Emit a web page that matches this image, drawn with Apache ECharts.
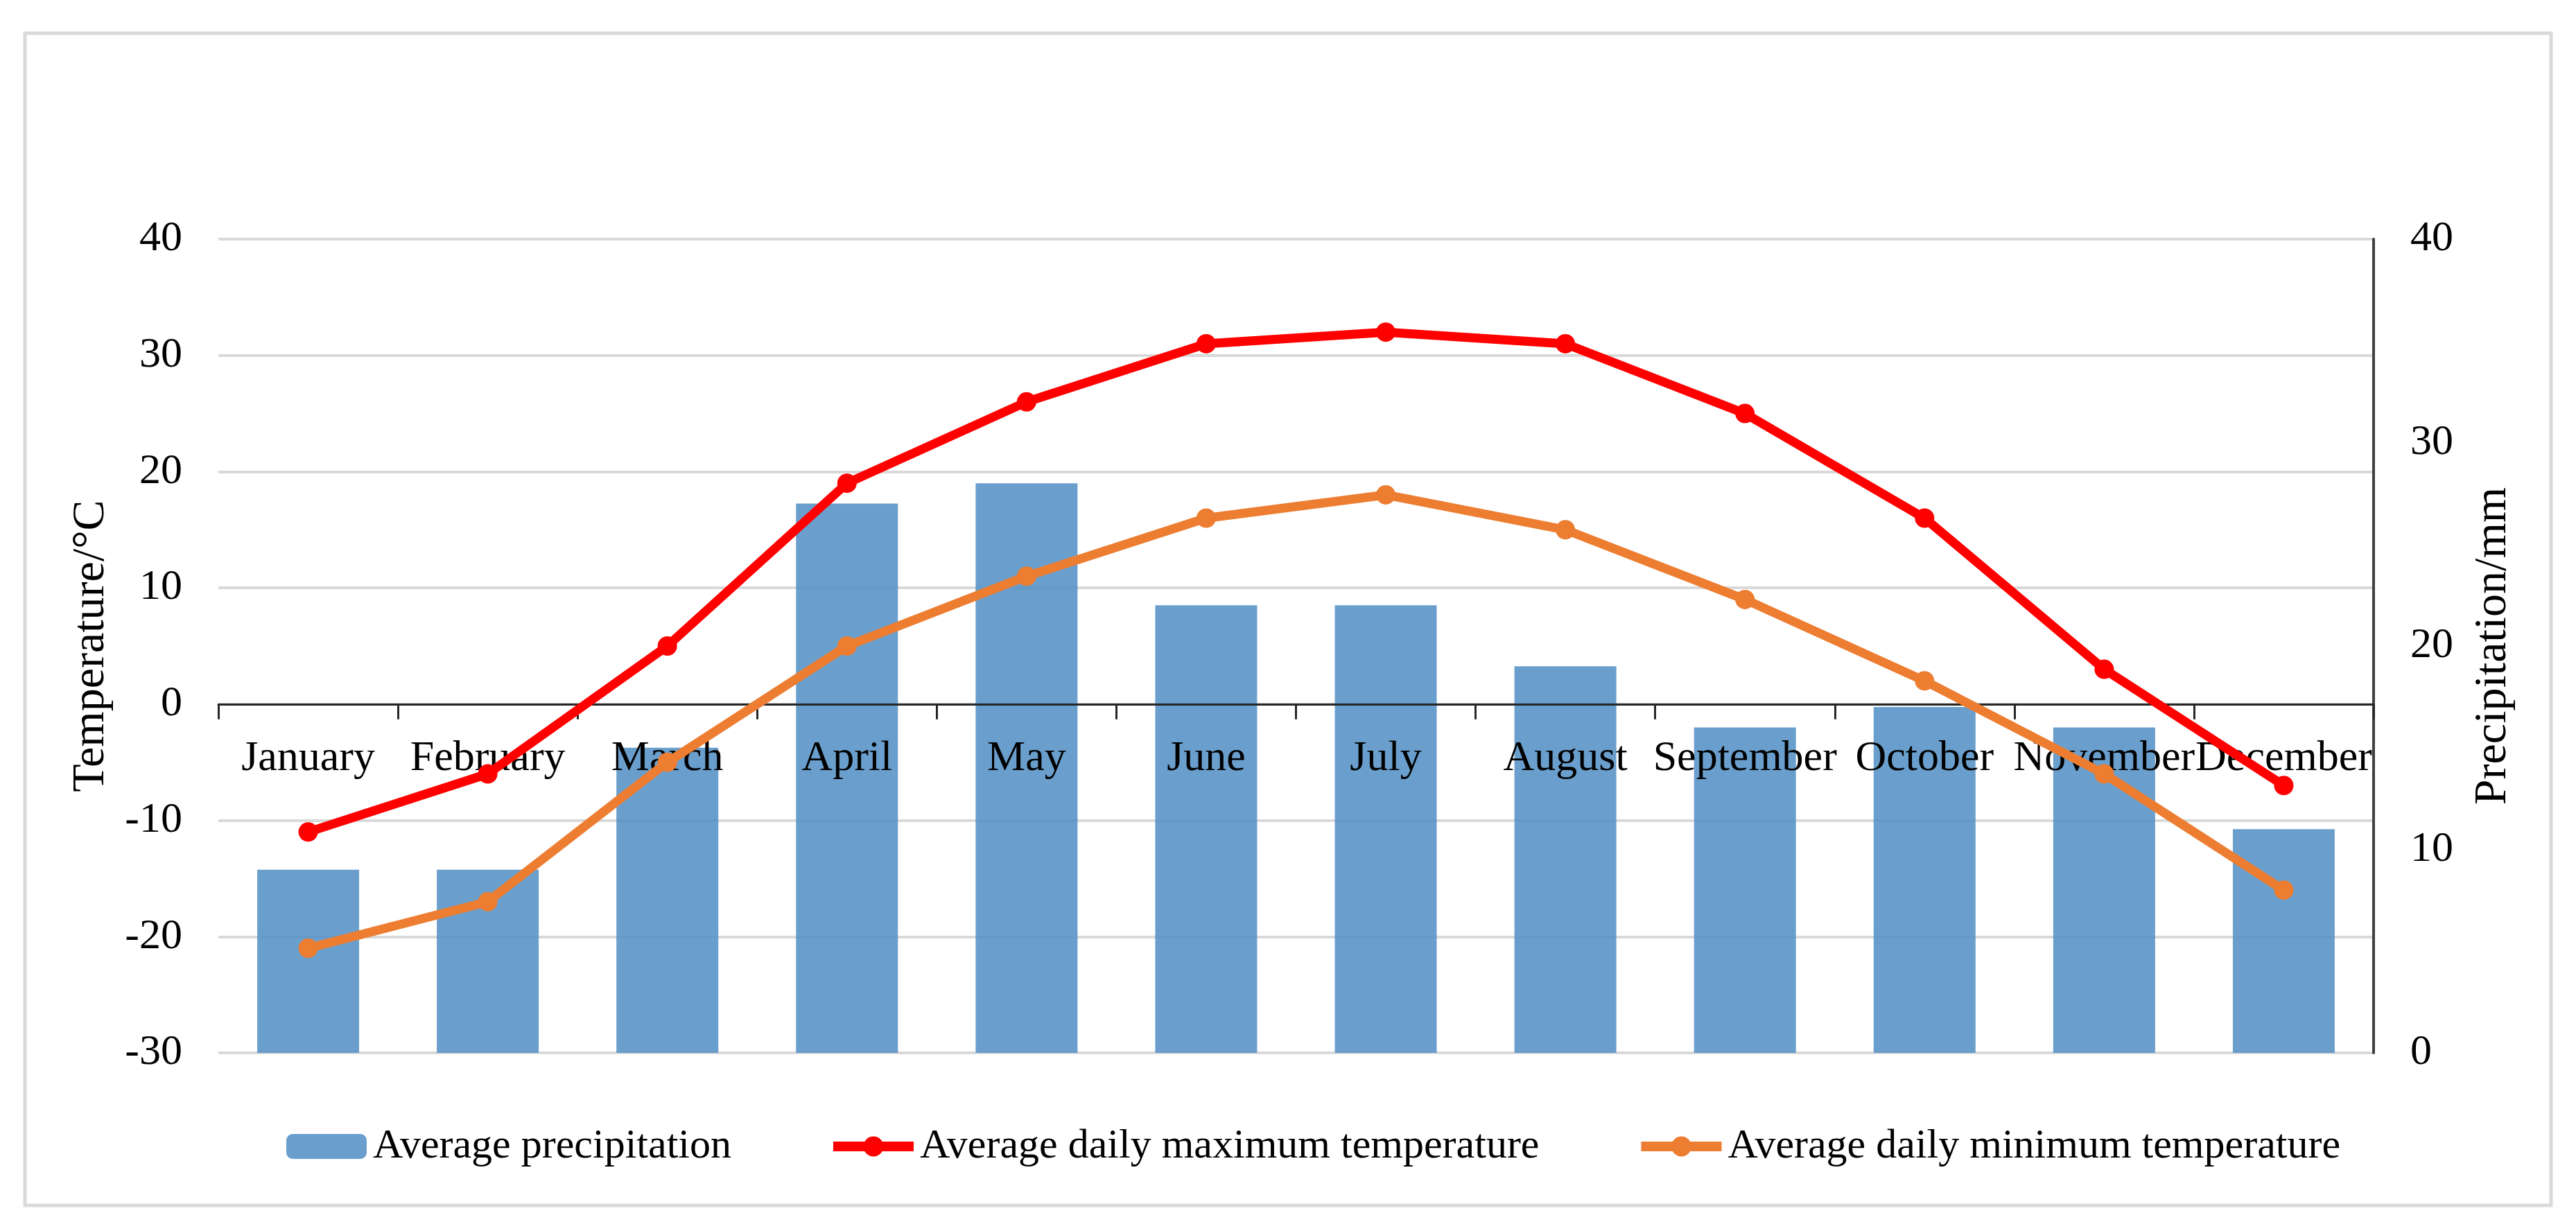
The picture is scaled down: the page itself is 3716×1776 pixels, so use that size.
<!DOCTYPE html>
<html>
<head>
<meta charset="utf-8">
<script src="https://cdn.jsdelivr.net/npm/echarts@6/dist/echarts.min.js"></script>
<style>
html,body{margin:0;padding:0;background:#ffffff;}
#chart{width:3716px;height:1776px;}
</style>
</head>
<body>
<div id="chart"></div>
<script>
// ---- data ----
const months = ['January','February','March','April','May','June','July','August','September','October','November','December'];
const precipitation = [9, 9, 15, 27, 28, 22, 22, 19, 16, 17, 16, 11];
const maxTemp = [-11, -6, 5, 19, 26, 31, 32, 31, 25, 16, 3, -7];
const minTemp = [-21, -17, -5, 5, 11, 16, 18, 15, 9, 2, -6, -16];
const seriesNames = ['Average precipitation', 'Average daily maximum temperature', 'Average daily minimum temperature'];
const tempAxis = { name: 'Temperature/\u00B0C', min: -30, max: 40, interval: 10 };
const precipAxis = { name: 'Precipitation/mm', min: 0, max: 40, interval: 10 };

// ---- layout ----
const FONT = '"Liberation Serif", "Times New Roman", serif';
const FS = 62;
const W = 3716, H = 1776;
const GRID = { left: 315, right: 292, top: 345, bottom: 257 };
const plotH = H - GRID.top - GRID.bottom;
// place the category axis on the temperature zero line
const zeroOffset = -plotH * (0 - tempAxis.min) / (tempAxis.max - tempAxis.min);

const chart = echarts.init(document.getElementById('chart'), null, { renderer: 'canvas' });

chart.setOption({
  backgroundColor: '#ffffff',
  animation: false,
  textStyle: { fontFamily: FONT, color: '#000' },
  graphic: [{
    type: 'rect',
    shape: { x: 36, y: 48, width: 3644, height: 1691 },
    style: { fill: null, stroke: '#d9d9d9', lineWidth: 5 },
    silent: true, z: -10
  }],
  grid: { left: GRID.left, right: GRID.right, top: GRID.top, bottom: GRID.bottom, containLabel: false, outerBoundsMode: 'none' },
  legend: {
    data: seriesNames,
    left: 408,
    top: 1619,
    itemWidth: 116,
    itemHeight: 36,
    itemGap: 140,
    lineStyle: { width: 14 },
    textStyle: { fontFamily: FONT, fontSize: 60, color: '#000', padding: [0, 0, 0, 4] }
  },
  xAxis: {
    type: 'category',
    data: months,
    boundaryGap: true,
    position: 'bottom',
    offset: zeroOffset,
    z: 3,
    axisLine: { show: true, onZero: false, lineStyle: { color: '#262626', width: 3 } },
    axisTick: { show: true, alignWithLabel: false, length: 22, inside: false, lineStyle: { color: '#262626', width: 3 } },
    axisLabel: { interval: 0, margin: 48, fontFamily: FONT, fontSize: FS, color: '#000' },
    splitLine: { show: false }
  },
  yAxis: [{
    type: 'value',
    position: 'left',
    name: tempAxis.name,
    nameLocation: 'middle',
    nameRotate: 90,
    nameGap: 150,
    nameTextStyle: { fontFamily: FONT, fontSize: 66, color: '#000' },
    min: tempAxis.min, max: tempAxis.max, interval: tempAxis.interval,
    axisLine: { show: false },
    axisTick: { show: false },
    axisLabel: { margin: 52, fontFamily: FONT, fontSize: FS, color: '#000' },
    splitLine: { show: true, lineStyle: { color: '#d9d9d9', width: 4 } }
  }, {
    type: 'value',
    position: 'right',
    name: precipAxis.name,
    nameLocation: 'middle',
    nameRotate: 90,
    nameGap: 140,
    nameTextStyle: { fontFamily: FONT, fontSize: 66, color: '#000' },
    min: precipAxis.min, max: precipAxis.max, interval: precipAxis.interval,
    alignTicks: false,
    axisLine: { show: true, onZero: false, lineStyle: { color: '#404040', width: 4 } },
    axisTick: { show: false },
    axisLabel: { margin: 53, fontFamily: FONT, fontSize: FS, color: '#000' },
    splitLine: { show: false }
  }],
  series: [{
    name: seriesNames[0],
    type: 'bar',
    yAxisIndex: 1,
    data: precipitation,
    barWidth: 147,
    z: 2,
    itemStyle: { color: 'rgba(80,142,196,0.85)' }
  }, {
    name: seriesNames[1],
    type: 'line',
    yAxisIndex: 0,
    data: maxTemp,
    z: 5,
    symbol: 'circle',
    symbolSize: 28,
    lineStyle: { color: '#ff0000', width: 13 },
    itemStyle: { color: '#ff0000' }
  }, {
    name: seriesNames[2],
    type: 'line',
    yAxisIndex: 0,
    data: minTemp,
    z: 4,
    symbol: 'circle',
    symbolSize: 28,
    lineStyle: { color: '#ed7d31', width: 13 },
    itemStyle: { color: '#ed7d31' }
  }]
});
</script>
</body>
</html>
